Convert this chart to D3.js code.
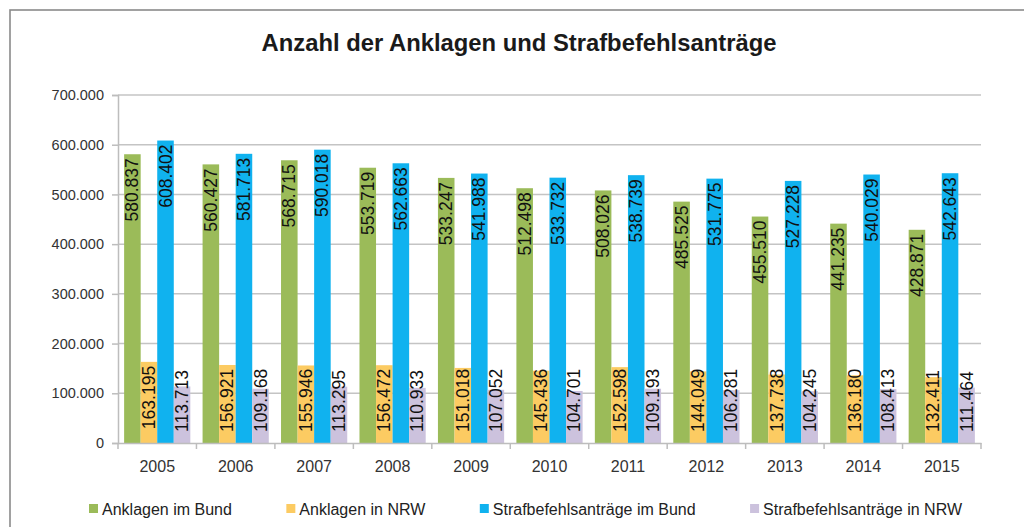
<!DOCTYPE html>
<html>
<head>
<meta charset="utf-8">
<script src="https://cdn.jsdelivr.net/npm/d3@7"></script>
<style>
  html, body { margin: 0; padding: 0; background: #fff; }
  svg { display: block; font-family: "Liberation Sans", Arial, sans-serif; }
</style>
</head>
<body>
<svg id="chart" width="1024" height="527"></svg>
<script>
const title = "Anzahl der Anklagen und Strafbefehlsanträge";
const years = ["2005","2006","2007","2008","2009","2010","2011","2012","2013","2014","2015"];
const seriesNames = ["Anklagen im Bund", "Anklagen in NRW", "Strafbefehlsanträge im Bund", "Strafbefehlsanträge in NRW"];
const seriesColors = ["#9BBB59", "#FCCB62", "#10B2EF", "#CCC2DD"];
const anklagenBund = [580837, 560427, 568715, 553719, 533247, 512498, 508026, 485525, 455510, 441235, 428871];
const anklagenNRW  = [163195, 156921, 155946, 156472, 151018, 145436, 152598, 144049, 137738, 136180, 132411];
const strafBund    = [608402, 581713, 590018, 562663, 541988, 533732, 538739, 531775, 527228, 540029, 542643];
const strafNRW     = [113713, 109168, 113295, 110933, 107052, 104701, 109193, 106281, 104245, 108413, 111464];
const yTicks = [0, 100000, 200000, 300000, 400000, 500000, 600000, 700000];

const seriesValues = [anklagenBund, anklagenNRW, strafBund, strafNRW];

const svg = d3.select("#chart");
const W = 1024, H = 527;
const margin = {left: 118, right: 43, top: 95, bottom: 84};
const plotW = W - margin.left - margin.right;
const plotH = H - margin.top - margin.bottom;

// outer chart border
svg.append("rect").attr("x", 10).attr("y", 10).attr("width", 1100).attr("height", 700)
  .attr("fill", "#fff").attr("stroke", "#8a8a8a").attr("stroke-width", 1.6);

const fmt = v => d3.format(",")(v).replace(/,/g, ".");

const x0 = d3.scaleBand().domain(years).range([0, plotW]).paddingInner(0).paddingOuter(0);
const x1 = d3.scaleBand().domain(d3.range(4)).range([0, x0.bandwidth()]).paddingOuter(0.37).paddingInner(0);
const y = d3.scaleLinear().domain([0, 700000]).range([plotH, 0]);

const g = svg.append("g").attr("transform", `translate(${margin.left},${margin.top})`);

// title
svg.append("text").attr("x", 519).attr("y", 51).attr("text-anchor", "middle")
  .attr("font-size", 23.8).attr("font-weight", "bold").attr("fill", "#1a1a1a").text(title);

// gridlines
g.append("g").selectAll("line").data(yTicks.slice(1)).join("line")
  .attr("x1", 0).attr("x2", plotW).attr("y1", d => y(d)).attr("y2", d => y(d))
  .attr("stroke", "#c4c4c4").attr("stroke-width", 1.5);

// y axis
const yAxis = g.append("g").call(d3.axisLeft(y).tickValues(yTicks).tickSize(6).tickPadding(8).tickFormat(fmt));
yAxis.select(".domain").attr("stroke", "#bdbdbd").attr("stroke-width", 1.5);
yAxis.selectAll(".tick line").attr("stroke", "#bdbdbd").attr("stroke-width", 1.5);
yAxis.selectAll("text").attr("font-size", 14.5).attr("fill", "#333").attr("font-family", "Liberation Sans, Arial, sans-serif");

// bars
const groups = g.append("g").selectAll("g").data(years).join("g")
  .attr("transform", d => `translate(${x0(d)},0)`);

groups.selectAll("rect").data((d, i) => seriesValues.map((s, k) => ({k, v: s[i]}))).join("rect")
  .attr("x", d => x1(d.k)).attr("width", x1.bandwidth())
  .attr("y", d => y(d.v)).attr("height", d => plotH - y(d.v))
  .attr("fill", d => seriesColors[d.k]);

// x axis
const xAxis = g.append("g").attr("transform", `translate(0,${plotH})`)
  .call(d3.axisBottom(x0).tickSize(0).tickPadding(18));
xAxis.select(".domain").attr("stroke", "#bdbdbd").attr("stroke-width", 1.5);
xAxis.selectAll("text").attr("font-size", 16).attr("fill", "#333").attr("font-family", "Liberation Sans, Arial, sans-serif");
// category boundary ticks
g.append("g").selectAll("line").data(d3.range(years.length + 1)).join("line")
  .attr("x1", i => i * x0.step()).attr("x2", i => i * x0.step())
  .attr("y1", plotH).attr("y2", plotH + 6)
  .attr("stroke", "#bdbdbd").attr("stroke-width", 1.5);

// data labels (rotated, inside end; kept above the base if the bar is too short)
const lbls = groups.selectAll("text.lbl").data((d, i) => seriesValues.map((s, k) => ({k, v: s[i]}))).join("text")
  .attr("class", "lbl")
  .attr("text-anchor", "end").attr("dominant-baseline", "central")
  .attr("font-size", 17.5).attr("fill", "#111")
  .text(d => fmt(d.v));
lbls.each(function(d) {
  const len = this.getComputedTextLength();
  const top = Math.min(y(d.v) + 4, plotH - 11 - len);
  d3.select(this).attr("transform", `translate(${x1(d.k) + x1.bandwidth() / 2},${top}) rotate(-90)`);
});

// legend
const legend = svg.append("g").attr("transform", "translate(0,515)");
const items = legend.selectAll("g").data(seriesNames).join("g");
items.append("rect").attr("width", 9).attr("height", 9).attr("y", -11).attr("fill", (d, i) => seriesColors[i]);
items.append("text").attr("x", 13).attr("font-size", 16).attr("fill", "#222").text(d => d);
let widths = [];
items.each(function() { widths.push(13 + this.querySelector("text").getComputedTextLength()); });
const spanW = 873;
const gap = (spanW - d3.sum(widths)) / (widths.length - 1);
let cx = 525.5 - spanW / 2;
items.each(function(d, i) { d3.select(this).attr("transform", `translate(${cx},0)`); cx += widths[i] + gap; });
</script>
</body>
</html>
